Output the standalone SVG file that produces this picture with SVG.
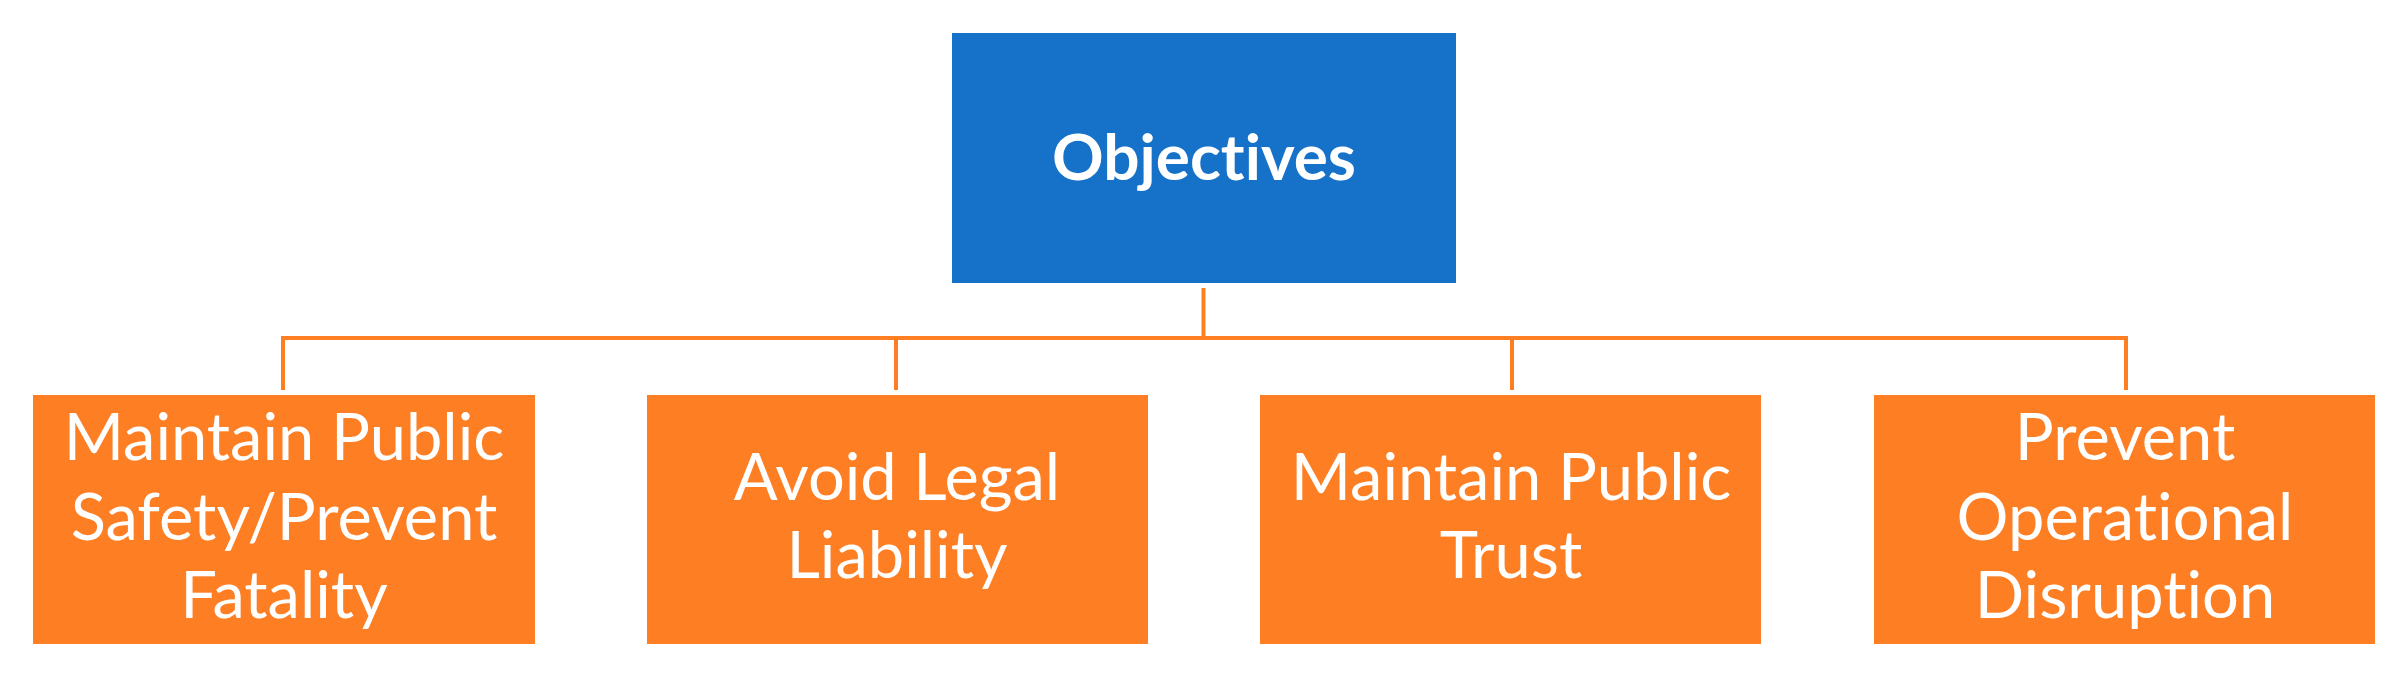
<svg xmlns="http://www.w3.org/2000/svg" width="2400" height="680" viewBox="0 0 2400 680">
<style>
.top{fill:#1672C8}
.box{fill:#FE7E24}
text{font-family:Lato,"Open Sans",sans-serif;fill:#fff;text-anchor:middle;font-variant-ligatures:none;font-feature-settings:"liga" 0}
.lbl{font-size:65px}
.ttl{font-size:64px;font-weight:bold}
.con{stroke:#FE7E24;stroke-width:4;fill:none}
</style>
<rect width="2400" height="680" fill="#fff"/>
<g id="connectors">
<path class="con" d="M1203.5 288V338"/>
<path class="con" d="M283 390V338H2126V390"/>
<path class="con" d="M896 338V390"/>
<path class="con" d="M1512 338V390"/>
</g>
<g id="objectives">
<rect class="top" x="952" y="33" width="504" height="250"/>
<text class="ttl" x="1204" y="180">Objectives</text>
</g>
<g id="safety">
<rect class="box" x="33" y="395" width="502" height="249"/>
<text class="lbl" x="284" y="460">Maintain Public</text>
<text class="lbl" x="284" y="540">Safety/Prevent</text>
<text class="lbl" x="284" y="618">Fatality</text>
</g>
<g id="legal">
<rect class="box" x="647" y="395" width="501" height="249"/>
<text class="lbl" x="897" y="500">Avoid Legal</text>
<text class="lbl" x="897" y="578">Liability</text>
</g>
<g id="trust">
<rect class="box" x="1260" y="395" width="501" height="249"/>
<text class="lbl" x="1511" y="500">Maintain Public</text>
<text class="lbl" x="1511" y="578">Trust</text>
</g>
<g id="disruption">
<rect class="box" x="1874" y="395" width="501" height="249"/>
<text class="lbl" x="2125" y="460">Prevent</text>
<text class="lbl" x="2125" y="540">Operational</text>
<text class="lbl" x="2125" y="618">Disruption</text>
</g>
</svg>
